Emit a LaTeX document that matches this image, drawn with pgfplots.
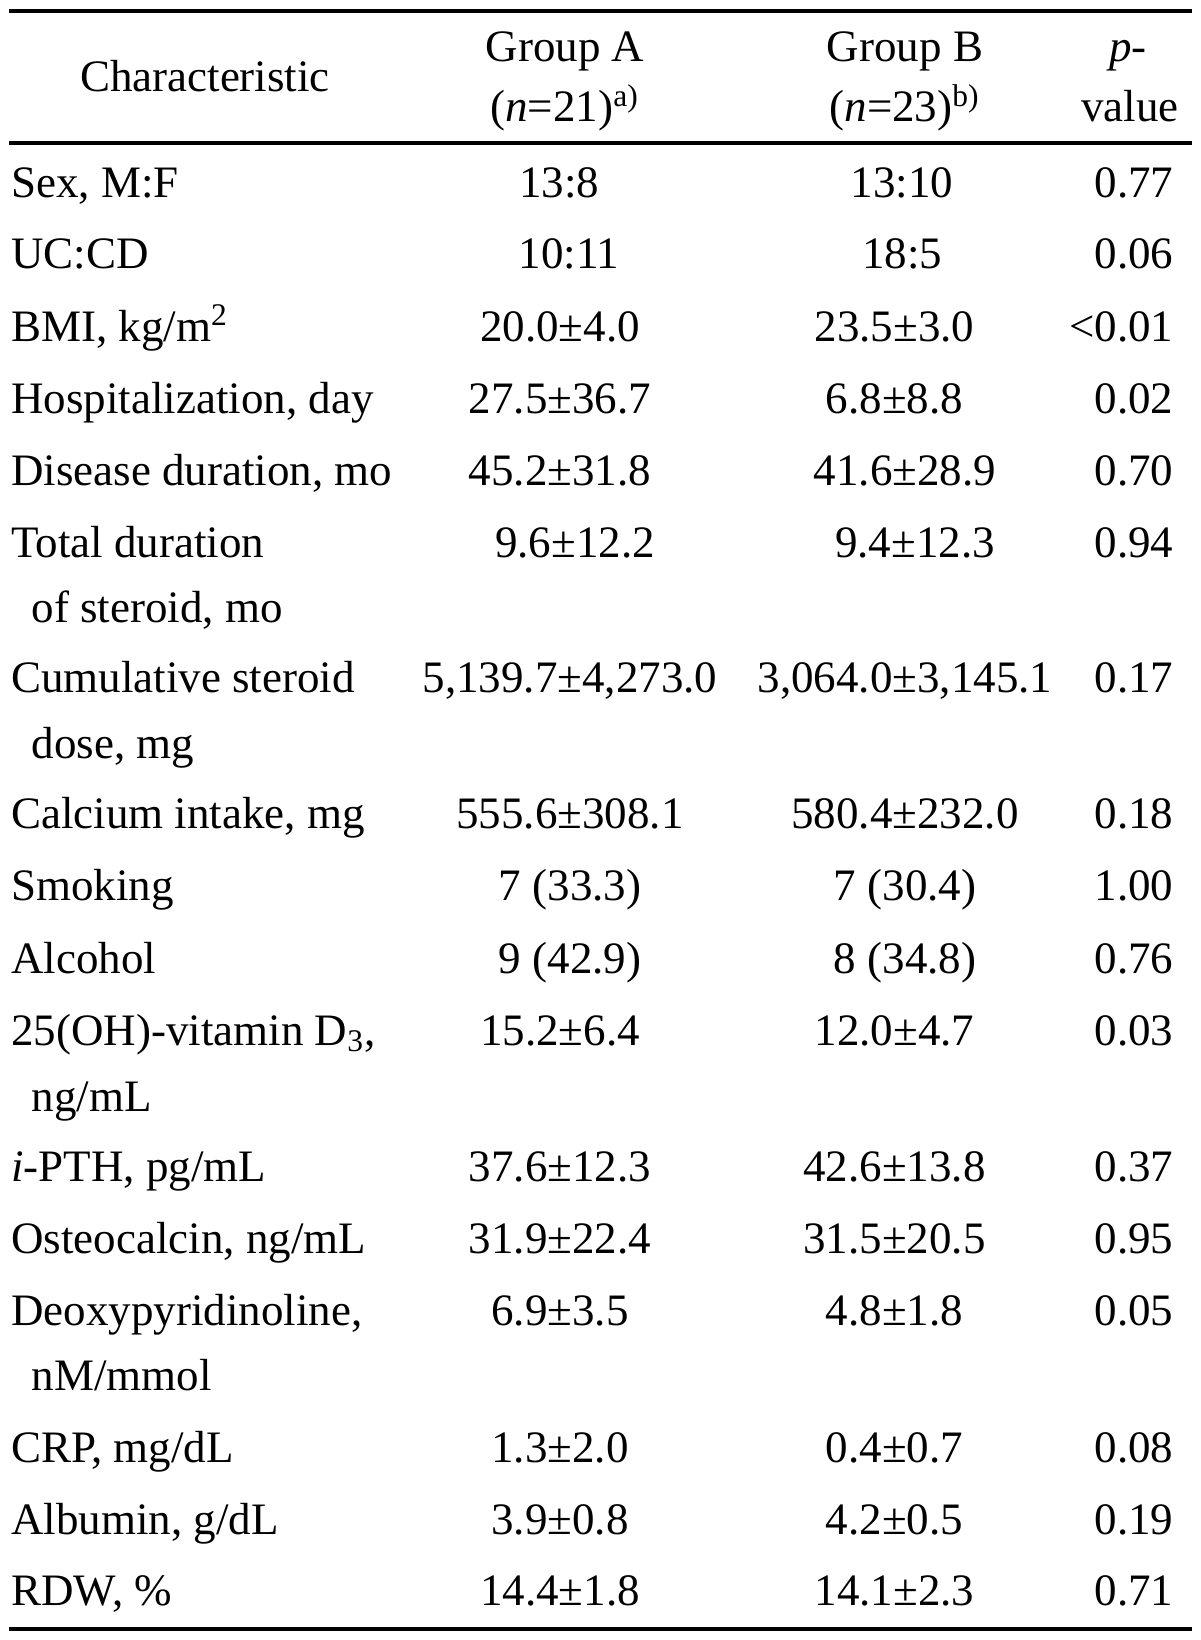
\documentclass[border=0pt]{standalone}
\usepackage{fontspec}
\setmainfont{Liberation Serif}
\usepackage{pgfplots}
\pgfplotsset{compat=1.18}
\newcommand{\tf}{\fontsize{12.8pt}{15pt}\selectfont}
\newcommand{\cell}[3]{\node[anchor=base,inner sep=0pt,font=\tf] at (axis cs:#1,#2) {#3};}
\newcommand{\lcell}[3]{\node[anchor=base west,inner sep=0pt,font=\tf] at (axis cs:#1,#2) {#3};}
\newcommand{\rcell}[3]{\node[anchor=base east,inner sep=0pt,font=\tf] at (axis cs:#1,#2) {#3};}
\begin{document}
\begin{tikzpicture}
\begin{axis}[
  width=12cm, height=16.4cm, scale only axis,
  xmin=0, xmax=1200, ymin=0, ymax=1640, y dir=reverse,
  hide axis, clip=false,
]
\addplot[draw=none] coordinates {(0,0) (1200,1640)};
\addplot[black, line width=1.1pt] coordinates {(9,11) (1192,11)};
\addplot[black, line width=1.0pt] coordinates {(9,143) (1192,143)};
\addplot[black, line width=1.1pt] coordinates {(9,1629) (1192,1629)};
% header
\cell{205}{92}{Characteristic}
\cell{565}{61.7}{Group A}
\cell{565}{122}{(\textit{n}=21)\textsuperscript{a)}}
\cell{905}{61.7}{Group B}
\cell{905}{122}{(\textit{n}=23)\textsuperscript{b)}}
\cell{1128}{61.7}{\textit{p}-}
\cell{1130}{122}{value}
% rows
\lcell{10.5}{197.7}{Sex, M:F}            \cell{559}{197.7}{13:8}   \cell{902}{197.7}{13:10} \rcell{1174}{197.7}{0.77}
\lcell{10.5}{268.9}{UC:CD}               \cell{569}{268.9}{10:11}  \cell{902}{268.9}{18:5}  \rcell{1174}{268.9}{0.06}
\lcell{10.5}{341.1}{BMI, kg/m\textsuperscript{2}} \cell{560}{341.1}{20.0±4.0} \cell{894.5}{341.1}{23.5±3.0} \rcell{1174}{341.1}{<0.01}
\lcell{10.5}{413.2}{Hospitalization, day} \cell{560}{413.2}{27.5±36.7} \cell{894.5}{413.2}{6.8±8.8} \rcell{1174}{413.2}{0.02}
\lcell{10.5}{485.4}{Disease duration, mo} \cell{560}{485.4}{45.2±31.8} \cell{905}{485.4}{41.6±28.9} \rcell{1174}{485.4}{0.70}
\lcell{10.5}{557.6}{Total duration}       \cell{575}{557.6}{9.6±12.2} \cell{915}{557.6}{9.4±12.3} \rcell{1174}{557.6}{0.94}
\lcell{31}{622.5}{of steroid, mo}
\lcell{10.5}{692.6}{Cumulative steroid}   \cell{570}{692.6}{5,139.7±4,273.0} \cell{905}{692.6}{3,064.0±3,145.1} \rcell{1174}{692.6}{0.17}
\lcell{31}{758.5}{dose, mg}
\lcell{10.5}{828.6}{Calcium intake, mg}   \cell{570}{828.6}{555.6±308.1} \cell{905}{828.6}{580.4±232.0} \rcell{1174}{828.6}{0.18}
\lcell{10.5}{900.8}{Smoking}              \cell{570}{900.8}{7 (33.3)} \cell{905}{900.8}{7 (30.4)} \rcell{1174}{900.8}{1.00}
\lcell{10.5}{973.0}{Alcohol}              \cell{570}{973.0}{9 (42.9)} \cell{905}{973.0}{8 (34.8)} \rcell{1174}{973.0}{0.76}
\lcell{10.5}{1045.2}{25(OH)-vitamin D\textsubscript{3},} \cell{560}{1045.2}{15.2±6.4} \cell{894.5}{1045.2}{12.0±4.7} \rcell{1174}{1045.2}{0.03}
\lcell{31}{1111.1}{ng/mL}
\lcell{10.5}{1181.2}{\textit{i}-PTH, pg/mL} \cell{560}{1181.2}{37.6±12.3} \cell{894.5}{1181.2}{42.6±13.8} \rcell{1174}{1181.2}{0.37}
\lcell{10.5}{1253.4}{Osteocalcin, ng/mL}  \cell{560}{1253.4}{31.9±22.4} \cell{894.5}{1253.4}{31.5±20.5} \rcell{1174}{1253.4}{0.95}
\lcell{10.5}{1325.6}{Deoxypyridinoline,}  \cell{560}{1325.6}{6.9±3.5} \cell{894.5}{1325.6}{4.8±1.8} \rcell{1174}{1325.6}{0.05}
\lcell{31}{1390.4}{nM/mmol}
\lcell{10.5}{1462.6}{CRP, mg/dL}          \cell{560}{1462.6}{1.3±2.0} \cell{894.5}{1462.6}{0.4±0.7} \rcell{1174}{1462.6}{0.08}
\lcell{10.5}{1534.8}{Albumin, g/dL}       \cell{560}{1534.8}{3.9±0.8} \cell{894.5}{1534.8}{4.2±0.5} \rcell{1174}{1534.8}{0.19}
\lcell{10.5}{1605.9}{RDW, \%}             \cell{560}{1605.9}{14.4±1.8} \cell{894.5}{1605.9}{14.1±2.3} \rcell{1174}{1605.9}{0.71}
\end{axis}
\end{tikzpicture}
\end{document}
